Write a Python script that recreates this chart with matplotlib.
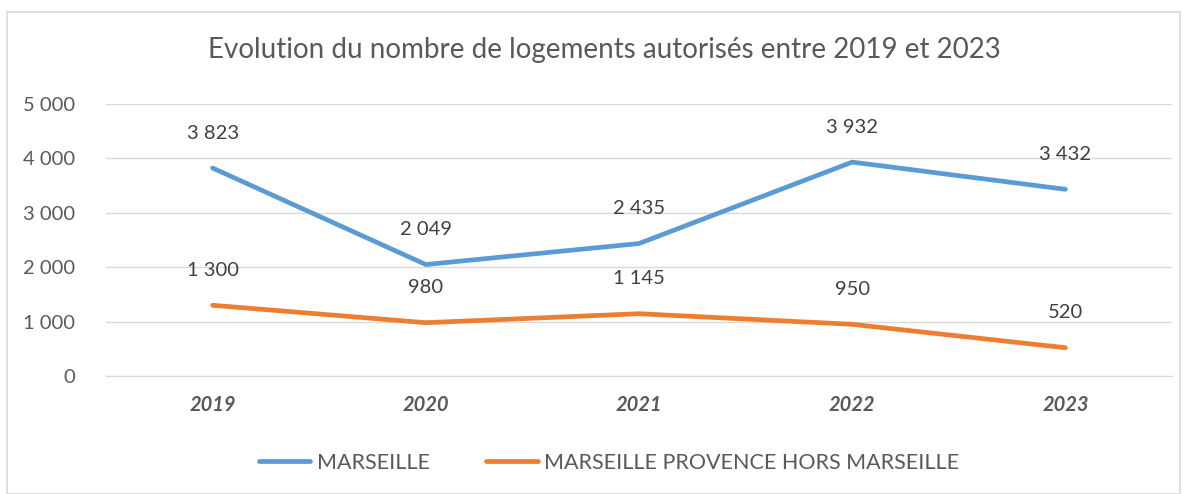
import matplotlib.pyplot as plt
from matplotlib.patches import Rectangle

years = ["2019", "2020", "2021", "2022", "2023"]
marseille = [3823, 2049, 2435, 3932, 3432]
hors_marseille = [1300, 980, 1145, 950, 520]
y_ticks = [0, 1000, 2000, 3000, 4000, 5000]

BLUE = "#5B9BD5"
ORANGE = "#ED7D31"
GREY = "#595959"


def fmt(v):
    return f"{v:,}".replace(",", " ")


def main():
    plt.rcParams['font.family'] = ['Lato', 'DejaVu Sans']
    fig = plt.figure(figsize=(11.87, 4.94), dpi=100)
    fig.patches.append(Rectangle((7 / 1187, 0), 1173 / 1187, 482 / 494,
                                 transform=fig.transFigure, fill=False,
                                 edgecolor="#D9D9D9", linewidth=1.2))

    ax = fig.add_axes([106 / 1187, 118 / 494, 1066 / 1187, 272 / 494])
    x = list(range(len(years)))
    ax.plot(x, marseille, color=BLUE, linewidth=3.4, solid_capstyle="round", label="MARSEILLE")
    ax.plot(x, hors_marseille, color=ORANGE, linewidth=3.4, solid_capstyle="round",
            label="MARSEILLE PROVENCE HORS MARSEILLE")

    for xi, v in zip(x, marseille):
        ax.annotate(fmt(v), (xi, v), xytext=(0, 25), textcoords="offset points",
                    ha="center", va="center", fontsize=14.5, color="#404040")
    for xi, v in zip(x, hors_marseille):
        ax.annotate(fmt(v), (xi, v), xytext=(0, 25), textcoords="offset points",
                    ha="center", va="center", fontsize=14.5, color="#404040")

    ax.set_xlim(-0.5, len(years) - 0.5)
    ax.set_ylim(0, 5000)
    ax.set_yticks(y_ticks)
    ax.set_yticklabels([fmt(t) for t in y_ticks], fontsize=14.5, color=GREY)
    ax.set_xticks(x)
    ax.set_xticklabels(years, fontsize=14.5, color=GREY, fontweight="bold", fontstyle="italic")
    ax.tick_params(axis="both", length=0)
    ax.tick_params(axis="y", pad=22)
    ax.tick_params(axis="x", pad=14)
    ax.grid(axis="y", color="#D9D9D9", linewidth=1)
    ax.set_axisbelow(True)
    for s in ["top", "right", "left"]:
        ax.spines[s].set_visible(False)
    ax.spines["bottom"].set_color("#D9D9D9")

    fig.text(604 / 1187, 1 - 50 / 494, "Evolution du nombre de logements autorisés entre 2019 et 2023",
             ha="center", va="center", fontsize=20, color=GREY)

    fig.legend(loc="center", bbox_to_anchor=(609 / 1187, 1 - 463 / 494), ncol=2,
               frameon=False, fontsize=15.5, handlelength=2.4, columnspacing=2.6,
               labelcolor=GREY, handletextpad=0.3)

    fig.savefig("out.png", dpi=100)


if __name__ == '__main__':
    main()
